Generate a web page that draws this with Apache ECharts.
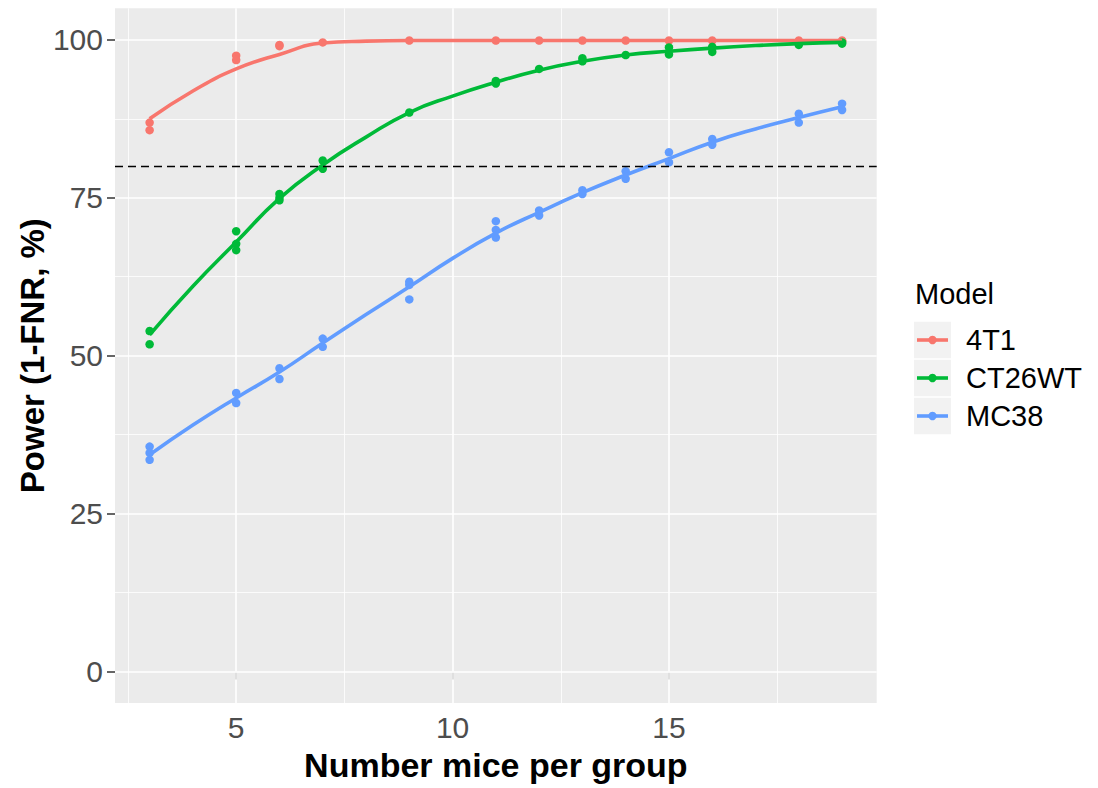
<!DOCTYPE html>
<html>
<head>
<meta charset="utf-8">
<script src="https://cdn.jsdelivr.net/npm/echarts@6/dist/echarts.min.js"></script>
<style>
  html, body { margin: 0; padding: 0; background: #ffffff; }
  #chart { width: 1098px; height: 788px; }
</style>
</head>
<body>
<div id="chart"></div>
<script>
// Group sizes simulated for each tumour model
const groupSizes = [3, 5, 6, 7, 9, 11, 12, 13, 14, 15, 16, 18, 19];
const models = ['4T1', 'CT26WT', 'MC38'];
const modelColors = ['#F8766D', '#00BA38', '#619CFF'];

// Replicate power estimates (%) at each group size
const reps4T1 = [[86.9, 85.7], [97.5, 96.8], [99.0, 99.2], [99.6], [99.9], [99.9], [99.9], [99.9], [99.9], [99.9], [99.9], [99.9], [99.8, 99.9]];
const repsCT26WT = [[53.9, 51.8], [69.7, 67.7, 66.7], [75.6, 74.6, 75.0], [80.9, 79.6], [88.5], [93.5, 93.1], [95.4], [97.1, 96.6], [97.6], [98.8, 97.7], [98.9, 98.1], [99.2], [99.6, 99.4]];
const repsMC38 = [[35.6, 34.6, 33.5], [44.1, 42.5], [48.0, 46.3], [52.7, 51.4], [61.7, 61.2, 58.9], [71.3, 69.9, 68.7], [73.0, 72.2], [76.2, 75.6], [79.2, 78.0], [82.2, 80.6], [84.3, 83.4], [88.3, 86.9], [89.9, 88.9]];

// Smoothed power curve (%) evaluated at whole group sizes
const fitSizes = [3, 4, 5, 6, 7, 8, 9, 10, 11, 12, 13, 14, 15, 16, 17, 18, 19];
const fit4T1 = [87.5, 91.9, 95.4, 97.7, 99.5, 99.8, 99.9, 99.9, 99.9, 99.9, 99.9, 99.9, 99.9, 99.9, 99.9, 99.9, 99.9];
const fitCT26WT = [53.3, 61.0, 68.0, 74.9, 80.2, 84.6, 88.5, 91.1, 93.3, 95.2, 96.6, 97.6, 98.2, 98.7, 99.1, 99.4, 99.6];
const fitMC38 = [34.3, 39.0, 43.3, 47.4, 52.0, 56.5, 60.9, 65.4, 69.4, 72.7, 75.8, 78.6, 81.2, 83.8, 85.9, 87.7, 89.4];

const powerTarget = 80;
const xTicks = [5, 10, 15];
const xMinorGrid = [2.5, 7.5, 12.5, 17.5];
const yTicks = [0, 25, 50, 75, 100];
const yMinorGrid = [12.5, 37.5, 62.5, 87.5];

const xTitle = 'Number mice per group';
const yTitle = 'Power (1-FNR, %)';
const legendTitle = 'Model';

const repSets = [reps4T1, repsCT26WT, repsMC38];
const fitSets = [fit4T1, fitCT26WT, fitMC38];

const FONT = '"Liberation Sans", Arial, sans-serif';
const PANEL = { left: 115, right: 876.7, top: 8.3, bottom: 703 };

const chart = echarts.init(document.getElementById('chart'), null, { renderer: 'svg' });

function flattenReps(reps) {
  const out = [];
  reps.forEach((vals, i) => vals.forEach(v => out.push([groupSizes[i], v])));
  return out;
}

// Panel grid lines drawn through the axis scales
const gridLines = [];
xTicks.forEach(v => gridLines.push({ xAxis: v, lineStyle: { width: 1.6 } }));
xMinorGrid.forEach(v => gridLines.push({ xAxis: v, lineStyle: { width: 0.8 } }));
yTicks.forEach(v => gridLines.push({ yAxis: v, lineStyle: { width: 1.6 } }));
yMinorGrid.forEach(v => gridLines.push({ yAxis: v, lineStyle: { width: 0.8 } }));

const series = [{
  type: 'line',
  data: [],
  z: 1,
  silent: true,
  markLine: {
    z: 1,
    silent: true,
    symbol: 'none',
    animation: false,
    label: { show: false },
    emphasis: { disabled: true },
    lineStyle: { color: '#ffffff', type: 'solid' },
    data: gridLines
  }
}];

models.forEach((name, k) => {
  series.push({
    name: name,
    type: 'scatter',
    data: flattenReps(repSets[k]),
    symbol: 'circle',
    symbolSize: 8.5,
    itemStyle: { color: modelColors[k], opacity: 1 },
    z: 3,
    silent: true
  });
  series.push({
    name: name,
    type: 'line',
    data: fitSizes.map((x, i) => [x, fitSets[k][i]]),
    smooth: 0.5,
    showSymbol: false,
    lineStyle: { color: modelColors[k], width: 3.6 },
    z: 4,
    silent: true
  });
});

// 80 % power reference line
series.push({
  type: 'line',
  data: [],
  z: 6,
  silent: true,
  markLine: {
    z: 6,
    silent: true,
    symbol: 'none',
    animation: false,
    label: { show: false },
    emphasis: { disabled: true },
    lineStyle: { color: '#000000', type: [8, 5], width: 1.3 },
    data: [{ yAxis: powerTarget }]
  }
});

// Titles and legend
const graphics = [
  {
    type: 'text',
    x: (PANEL.left + PANEL.right) / 2, y: 765,
    style: { text: xTitle, font: 'bold 34px ' + FONT, fill: '#000000', align: 'center', verticalAlign: 'middle' }
  },
  {
    type: 'text',
    x: 32, y: (PANEL.top + PANEL.bottom) / 2,
    rotation: Math.PI / 2,
    style: { text: yTitle, font: 'bold 33px ' + FONT, fill: '#000000', align: 'center', verticalAlign: 'middle' }
  },
  {
    type: 'text',
    x: 915, y: 294,
    style: { text: legendTitle, font: '29px ' + FONT, fill: '#000000', align: 'left', verticalAlign: 'middle' }
  }
];
models.forEach((name, k) => {
  const top = 321.7 + k * 38;
  const cy = top + 18.3;
  graphics.push({ type: 'rect', shape: { x: 914, y: top, width: 37, height: 36.6 }, style: { fill: '#F2F2F2' } });
  graphics.push({ type: 'line', shape: { x1: 917, y1: cy, x2: 948, y2: cy }, style: { stroke: modelColors[k], lineWidth: 3.6 } });
  graphics.push({ type: 'circle', shape: { cx: 932.5, cy: cy, r: 4.2 }, style: { fill: modelColors[k] } });
  graphics.push({
    type: 'text', x: 966, y: cy,
    style: { text: name, font: '29px ' + FONT, fill: '#000000', align: 'left', verticalAlign: 'middle' }
  });
});

chart.setOption({
  animation: false,
  backgroundColor: '#ffffff',
  grid: {
    left: PANEL.left, right: 1098 - PANEL.right, top: PANEL.top, bottom: 788 - PANEL.bottom,
    show: true, backgroundColor: '#EBEBEB', borderWidth: 0, containLabel: false
  },
  xAxis: {
    type: 'value', min: 2.2, max: 19.8,
    axisLine: { show: false },
    axisTick: { show: true, customValues: xTicks, length: 8, lineStyle: { color: '#333333', width: 1.5 } },
    axisLabel: { customValues: xTicks, fontSize: 30, fontFamily: FONT, color: '#4D4D4D', margin: 9 },
    splitLine: { show: false }
  },
  yAxis: {
    type: 'value', min: -5, max: 105,
    axisLine: { show: false },
    axisTick: { show: true, customValues: yTicks, length: 8, lineStyle: { color: '#333333', width: 1.5 } },
    axisLabel: { customValues: yTicks, fontSize: 30, fontFamily: FONT, color: '#4D4D4D', margin: 12 },
    splitLine: { show: false }
  },
  series: series,
  graphic: graphics
});
</script>
</body>
</html>
